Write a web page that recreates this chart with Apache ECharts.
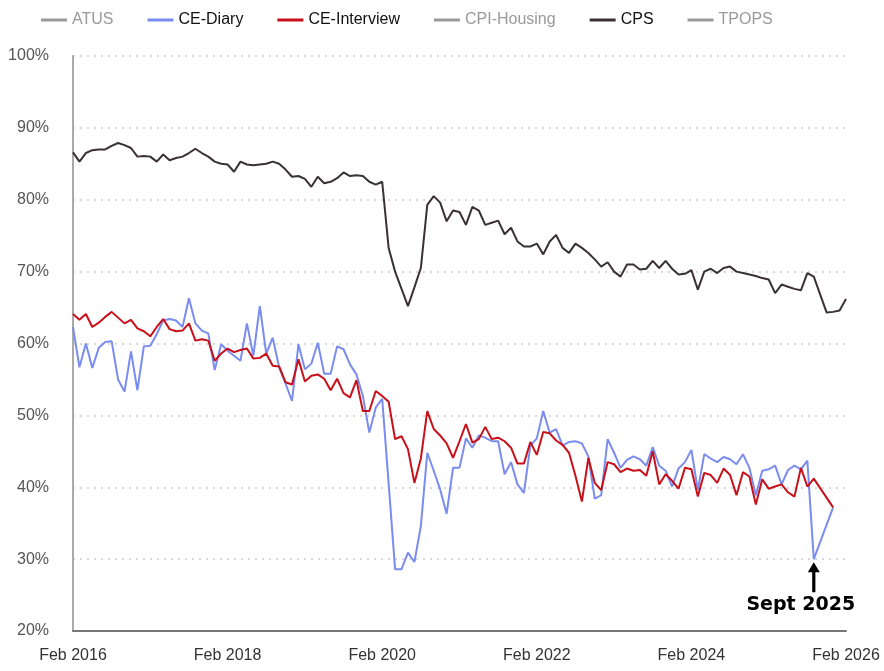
<!DOCTYPE html>
<html>
<head>
<meta charset="utf-8">
<script src="https://cdn.jsdelivr.net/npm/echarts@6/dist/echarts.min.js"></script>
<style>
  html, body { margin: 0; padding: 0; background: #fff; }
  #chart { width: 884px; height: 671px; }
</style>
</head>
<body>
<div id="chart"></div>
<script>
// response rates by survey, monthly from Feb 2016 to Feb 2026
const monthNames = ['Jan', 'Feb', 'Mar', 'Apr', 'May', 'Jun', 'Jul', 'Aug', 'Sep', 'Oct', 'Nov', 'Dec'];
const startYear = 2016;
const startMonth = 1; // Feb
const monthCount = 121;

const cps = [
  86.6, 85.3, 86.5, 86.9, 87.0, 87.0, 87.5, 87.9, 87.6, 87.2, 86.0, 86.1,
  86.0, 85.3, 86.3, 85.5, 85.8, 86.0, 86.5, 87.1, 86.5, 86.0, 85.3, 85.0,
  84.9, 83.9, 85.3, 84.9, 84.8, 84.9, 85.0, 85.3, 85.0, 84.2, 83.2, 83.3,
  82.9, 81.8, 83.2, 82.3, 82.5, 83.0, 83.8, 83.3, 83.4, 83.3, 82.5, 82.1,
  82.5, 73.3, 70.0, 67.6, 65.2, 67.8, 70.5, 79.3, 80.5, 79.6, 77.0, 78.5,
  78.3, 76.5, 79.0, 78.5, 76.5, 76.8, 77.1, 75.2, 76.1, 74.2, 73.5, 73.5,
  73.9, 72.4, 74.2, 75.1, 73.3, 72.6, 73.9, 73.3, 72.6, 71.7, 70.7, 71.3,
  70.0, 69.3, 71.0, 71.0, 70.3, 70.4, 71.5, 70.5, 71.5, 70.4, 69.6, 69.7,
  70.2, 67.5, 70.0, 70.4, 69.8, 70.5, 70.7, 70.0, 69.8, 69.6, 69.4, 69.1,
  68.9, 67.0, 68.2, 67.9, 67.6, 67.4, 69.8, 69.3, null, 64.3, 64.4, 64.6,
  66.2
];

const ceDiary = [
  62.3, 56.7, 60.0, 56.6, 59.4, 60.2, 60.3, 55.0, 53.3, 58.9, 53.5, 59.6,
  59.7, 61.3, 63.2, 63.4, 63.2, 62.3, 66.3, 62.8, 61.8, 61.4, 56.3, 59.9,
  59.0, 58.3, 57.6, 62.8, 58.3, 65.2, 58.6, 60.8, 56.7, 54.4, 52.0, 59.9,
  56.4, 57.2, 60.1, 55.8, 55.8, 59.6, 59.2, 57.1, 55.7, 52.7, 47.6, 51.1,
  52.3, 40.5, 28.6, 28.6, 30.9, 29.6, 34.6, 44.8, 42.3, 39.7, 36.3, 42.7,
  42.7, 46.8, 45.5, 47.2, 46.9, 46.4, 46.4, 41.8, 43.5, 40.4, 39.2, 45.8,
  46.8, 50.6, 47.6, 48.1, 45.8, 46.3, 46.4, 46.1, 44.3, 38.4, 38.9, 46.7,
  44.8, 42.7, 43.8, 44.3, 43.9, 43.0, 45.6, 43.0, 42.3, 40.1, 42.6, 43.5,
  45.2, 39.6, 44.6, 44.0, 43.5, 44.2, 43.9, 43.2, 44.6, 42.7, 38.9, 42.3,
  42.5, 43.0, 40.4, 42.4, 43.0, 42.5, 43.7, 30.0, null, null, 37.2
];

const ceInterview = [
  64.1, 63.3, 64.1, 62.3, 62.9, 63.7, 64.4, 63.6, 62.8, 63.3, 62.1, 61.7,
  61.0, 62.3, 63.4, 62.0, 61.7, 61.8, 62.8, 60.4, 60.6, 60.4, 57.6, 58.6,
  59.3, 58.8, 59.1, 59.3, 57.9, 58.0, 58.6, 56.9, 56.8, 54.6, 54.3, 57.8,
  54.7, 55.5, 55.7, 55.1, 53.5, 55.1, 53.1, 52.5, 54.9, 50.6, 50.6, 53.4,
  52.7, 51.9, 46.7, 47.1, 45.3, 40.6, 44.0, 50.6, 48.1, 47.2, 46.1, 44.1,
  46.4, 48.8, 46.2, 46.7, 48.4, 46.7, 46.9, 46.4, 45.5, 43.3, 43.3, 46.3,
  44.5, 47.7, 47.5, 46.5, 45.9, 44.8, 41.6, 38.0, 44.1, 40.6, 39.6, 43.5,
  43.2, 42.1, 42.6, 42.3, 42.4, 41.6, 45.0, 40.4, 41.8, 40.9, 39.8, 42.7,
  42.5, 38.7, 42.0, 41.7, 40.6, 42.6, 41.7, 38.9, 42.1, 41.5, 37.6, 41.1,
  39.8, 40.1, 40.4, 39.3, 38.7, 42.7, 40.1, 41.2, null, null, 37.2
];

// surveys switched off in the legend
const hiddenSurveys = ['ATUS', 'CPI-Housing', 'TPOPS'];
const legendOrder = ['ATUS', 'CE-Diary', 'CE-Interview', 'CPI-Housing', 'CPS', 'TPOPS'];
const yTicks = [20, 30, 40, 50, 60, 70, 80, 90, 100];
const noteMonth = 'Sep 2025';
const noteText = 'Sept 2025';

const categories = [];
for (let i = 0; i < monthCount; i++) {
    const m = startMonth + i;
    categories.push(monthNames[m % 12] + ' ' + (startYear + Math.floor(m / 12)));
}

const FONT = '"Liberation Sans", Arial, sans-serif';

const chart = echarts.init(document.getElementById('chart'));

const selected = {};
hiddenSurveys.forEach(n => { selected[n] = false; });

function lineSeries(name, data, color) {
    return {
        name: name,
        type: 'line',
        data: data,
        color: color,
        symbol: 'none',
        connectNulls: true,
        lineStyle: {width: 2, color: color},
        emphasis: {disabled: true}
    };
}

const arrowPath = 'path://M6,0 L12,10 L7.6,10 L7.6,30 L4.4,30 L4.4,10 L0,10 Z';

const diarySeries = lineSeries('CE-Diary', ceDiary, '#7a8cf0');
diarySeries.markPoint = {
    silent: true,
    symbol: arrowPath,
    symbolSize: [12, 30],
    symbolOffset: [0, 18],
    itemStyle: {color: '#000'},
    label: {
        show: true,
        position: 'bottom',
        distance: 3,
        offset: [-13, 0],
        formatter: noteText,
        color: '#000',
        fontFamily: '"DejaVu Sans", sans-serif',
        fontWeight: 'bold',
        fontSize: 19
    },
    data: [{coord: [noteMonth, ceDiary[categories.indexOf(noteMonth)]]}]
};

chart.setOption({
    animation: false,
    backgroundColor: '#fff',
    legend: {
        left: 36,
        top: 7,
        data: legendOrder,
        selected: selected,
        icon: 'rect',
        itemWidth: 26,
        itemHeight: 3,
        itemGap: 34,
        inactiveColor: '#9a9a9a',
        textStyle: {fontFamily: FONT, fontSize: 16, color: '#111'}
    },
    grid: {left: 73, right: 38, top: 56, bottom: 40},
    xAxis: {
        type: 'category',
        data: categories,
        boundaryGap: false,
        axisTick: {show: false},
        axisLine: {lineStyle: {color: '#777', width: 2}},
        axisLabel: {
            interval: 23,
            margin: 17,
            color: '#333',
            fontFamily: FONT,
            fontSize: 16,
            showMinLabel: true,
            showMaxLabel: true
        },
        splitLine: {show: false}
    },
    yAxis: {
        type: 'value',
        min: yTicks[0],
        max: yTicks[yTicks.length - 1],
        interval: 10,
        axisLine: {show: true, lineStyle: {color: '#aaa', width: 2}},
        axisTick: {show: false},
        axisLabel: {
            margin: 24,
            color: '#555',
            fontFamily: FONT,
            fontSize: 16,
            formatter: '{value}%'
        },
        splitLine: {lineStyle: {color: '#ccc', type: [2, 5], width: 1.5}}
    },
    series: [
        lineSeries('ATUS', [], '#888'),
        diarySeries,
        lineSeries('CE-Interview', ceInterview, '#c8101a'),
        lineSeries('CPI-Housing', [], '#888'),
        lineSeries('CPS', cps, '#3a3133'),
        lineSeries('TPOPS', [], '#888')
    ]
});
</script>
</body>
</html>
